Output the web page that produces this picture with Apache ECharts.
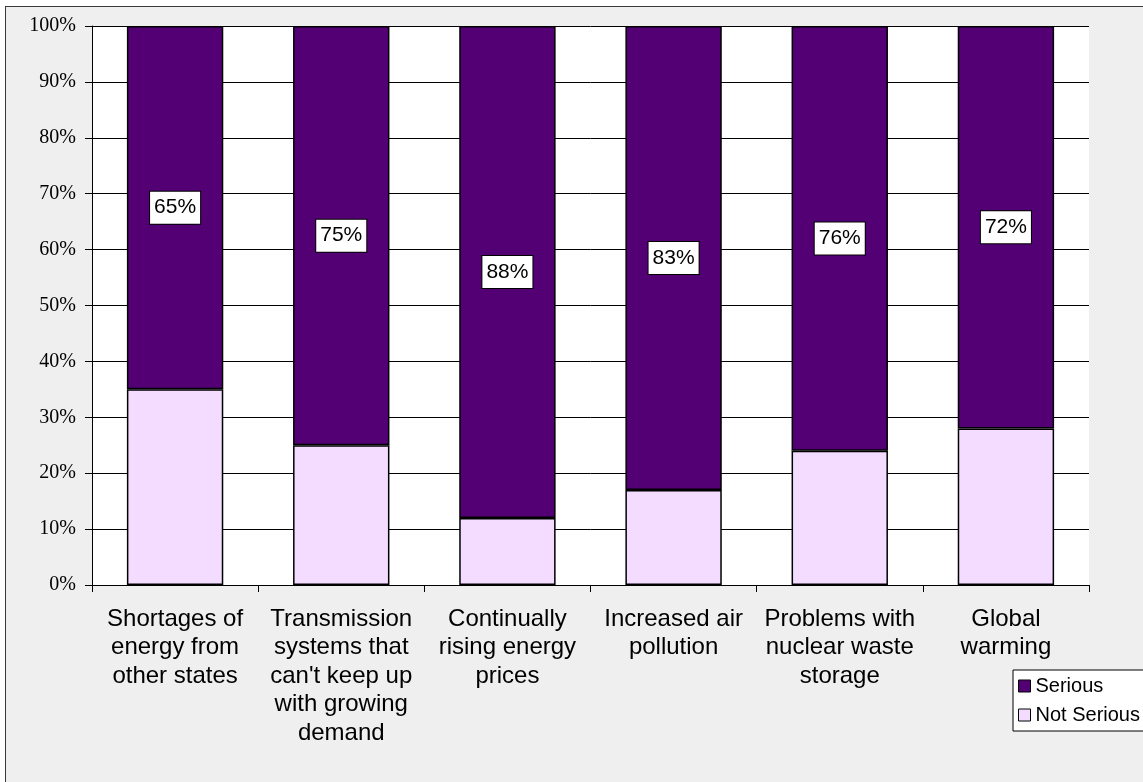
<!DOCTYPE html>
<html>
<head>
<meta charset="utf-8">
<script src="https://cdn.jsdelivr.net/npm/echarts@6/dist/echarts.min.js"></script>
<style>
  html, body { margin: 0; padding: 0; background: #ffffff; overflow: hidden; }
  #frame {
    position: absolute; left: 5px; top: 6px; width: 1300px; height: 900px;
    background: #efefef; border: 1px solid #3a3a3a;
  }
  #chart { position: absolute; left: 0; top: 0; width: 1143px; height: 782px; }
</style>
</head>
<body>
<div id="frame"></div>
<div id="chart"></div>
<script>
// Perceived seriousness of energy issues (percent of respondents)
const categories = [
  'Shortages of\nenergy from\nother states',
  'Transmission\nsystems that\ncan\'t keep up\nwith growing\ndemand',
  'Continually\nrising energy\nprices',
  'Increased air\npollution',
  'Problems with\nnuclear waste\nstorage',
  'Global\nwarming'
];
const seriousValues = [65, 75, 88, 83, 76, 72];
const notSeriousValues = [35, 25, 12, 17, 24, 28];
const seriesNames = ['Serious', 'Not Serious'];

const chart = echarts.init(document.getElementById('chart'), null, { renderer: 'canvas' });

chart.setOption({
  backgroundColor: 'transparent',
  animation: false,
  grid: {
    left: 92, top: 26, width: 997, height: 559,
    show: true, backgroundColor: '#ffffff', borderWidth: 0
  },
  legend: {
    orient: 'vertical',
    left: 1013, top: 670,
    data: seriesNames,
    backgroundColor: '#ffffff',
    borderColor: '#000000',
    borderWidth: 1,
    borderRadius: 0,
    padding: [5, 30, 5, 5],
    itemWidth: 12, itemHeight: 12, itemGap: 7,
    icon: 'rect',
    itemStyle: { borderColor: '#000000', borderWidth: 1 },
    textStyle: { fontFamily: 'Liberation Sans', fontSize: 20, color: '#000', lineHeight: 22 }
  },
  xAxis: {
    type: 'category',
    data: categories,
    axisLine: { show: true, lineStyle: { color: '#000', width: 1 } },
    axisTick: { show: true, alignWithLabel: false, length: 7, lineStyle: { color: '#000' } },
    axisLabel: {
      interval: 0, margin: 20,
      fontFamily: 'Liberation Sans', fontSize: 24, lineHeight: 28.5, color: '#000', align: 'center'
    },
    splitLine: { show: false }
  },
  yAxis: {
    type: 'value',
    min: 0, max: 100, interval: 10,
    axisLine: { show: true, lineStyle: { color: '#000', width: 1 } },
    axisTick: { show: true, length: 7, lineStyle: { color: '#000' } },
    axisLabel: {
      formatter: '{value}%', margin: 16,
      fontFamily: 'Liberation Serif', fontSize: 20, color: '#000'
    },
    splitLine: { show: true, lineStyle: { color: '#000', width: 1 } }
  },
  series: [
    {
      name: 'Not Serious',
      type: 'bar',
      stack: 'total',
      barWidth: '58%',
      data: notSeriousValues,
      itemStyle: { color: '#f3dcff', borderColor: '#000', borderWidth: 1.5 }
    },
    {
      name: 'Serious',
      type: 'bar',
      stack: 'total',
      barWidth: '58%',
      data: seriousValues,
      itemStyle: { color: '#520074', borderColor: '#000', borderWidth: 1.5 },
      label: {
        show: true,
        position: 'inside',
        formatter: '{c}%',
        fontFamily: 'Liberation Sans',
        fontSize: 21,
        color: '#000',
        backgroundColor: '#ffffff',
        borderColor: '#000',
        borderWidth: 1,
        padding: [6, 4, 5, 4]
      }
    }
  ]
});
</script>
</body>
</html>
